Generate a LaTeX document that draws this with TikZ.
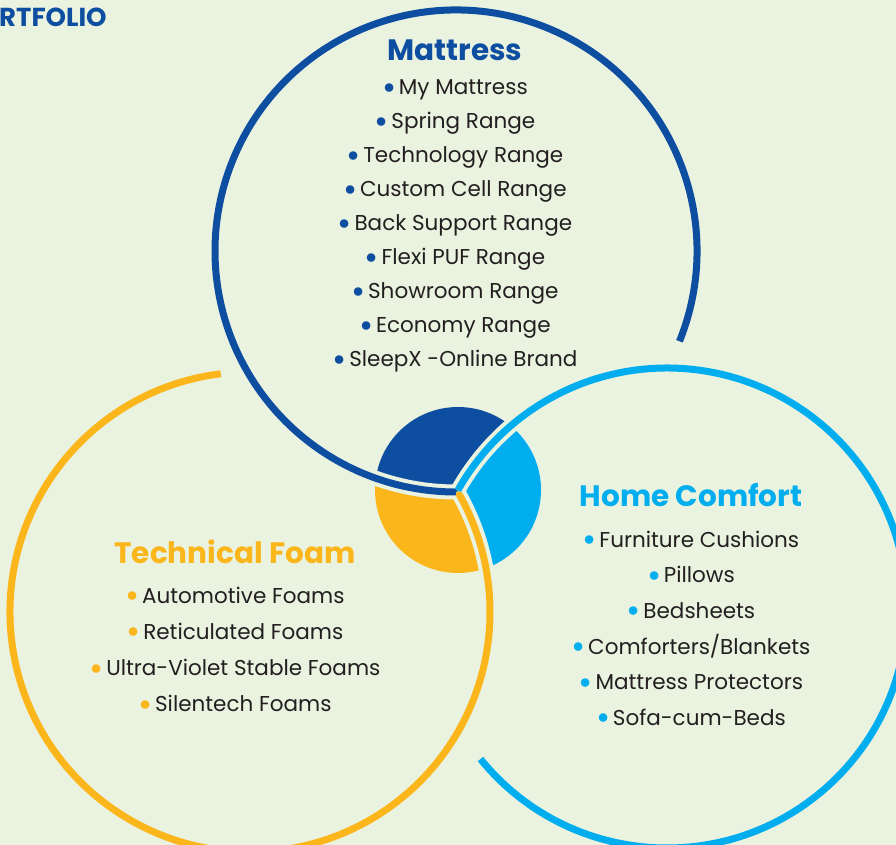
\documentclass[tikz,border=0pt]{standalone}
\usepackage{fontspec}
\setmainfont{Poppins}
\usetikzlibrary{positioning}
\definecolor{mattblue}{HTML}{0D4EA1}
\definecolor{foamyellow}{HTML}{FBB61B}
\definecolor{homecyan}{HTML}{00AEEF}
\definecolor{bggreen}{HTML}{EAF2E0}
\definecolor{textgray}{HTML}{231F20}
\newcommand{\bulletof}[1]{\raisebox{-0.2em}{\scalebox{1.6}{\color{#1}\textbullet}}\hspace{2.5pt}}

\begin{document}
\begin{tikzpicture}[x=1pt, y=1pt,
  title/.style={font=\fontsize{29.5}{30}\selectfont\bfseries, text height=22pt, text depth=7pt, inner sep=0pt},
  item/.style={font=\fontsize{21.5}{22}\selectfont, text=textgray, text height=15pt, text depth=5pt, inner sep=0pt},
  ring/.style={line width=7pt},
  halo/.style={line width=15pt, draw=bggreen}]
  % Background
  \fill[bggreen] (0,0) rectangle (896,845);
  \useasboundingbox (0,0) rectangle (896,845);

  % Centres of the circles and of the pie
  \coordinate (mc) at (456,594);
  \coordinate (fc) at (250,233);
  \coordinate (hc) at (667,237);
  \coordinate (j) at (458,355);

  % Pie in the middle
  \begin{scope}
    \clip (j) circle (83pt);
    \begin{scope}
      \clip (mc) circle (241pt);
      \fill[mattblue, even odd rule] (hc) circle (240pt) (0,0) rectangle (896,845);
    \end{scope}
    \begin{scope}
      \clip (fc) circle (240pt);
      \fill[foamyellow, even odd rule] (mc) circle (241pt) (0,0) rectangle (896,845);
    \end{scope}
    \begin{scope}
      \clip (hc) circle (240pt);
      \fill[homecyan, even odd rule] (fc) circle (240pt) (0,0) rectangle (896,845);
    \end{scope}
  \end{scope}

  % Rings
  \begin{scope}
    \clip (j) circle (95pt);
    \draw[halo] (fc) ++(97:240pt) arc[start angle=97, end angle=390, radius=240pt];
  \end{scope}
  \draw[ring, foamyellow] (fc) ++(97:240pt) arc[start angle=97, end angle=390, radius=240pt];
  \begin{scope}
    \clip (j) circle (95pt);
    \draw[halo] (mc) ++(-22:241pt) arc[start angle=-22, end angle=270, radius=241pt];
  \end{scope}
  \draw[ring, mattblue] (mc) ++(-22:241pt) arc[start angle=-22, end angle=270, radius=241pt];
  \begin{scope}
    \clip (j) circle (95pt);
    \draw[halo] (hc) ++(-141:240pt) arc[start angle=-141, end angle=150.6, radius=240pt];
  \end{scope}
  \draw[ring, homecyan] (hc) ++(-141:240pt) arc[start angle=-141, end angle=150.6, radius=240pt];

  % Heading cut at the edge
  \node[font=\fontsize{26}{26}\selectfont\bfseries, text=mattblue, anchor=west, inner sep=0pt] (portfolio) at (-1,828) {RTFOLIO};

  % Mattress
  \node[title, text=mattblue] (matt) at (455,792) {Mattress};
  \node[item, below=12pt of matt] (matt1) {\bulletof{mattblue}My Mattress};
  \node[item, below=13.6pt of matt1] (matt2) {\bulletof{mattblue}Spring Range};
  \node[item, below=13.6pt of matt2] (matt3) {\bulletof{mattblue}Technology Range};
  \node[item, below=13.6pt of matt3] (matt4) {\bulletof{mattblue}Custom Cell Range};
  \node[item, below=13.6pt of matt4] (matt5) {\bulletof{mattblue}Back Support Range};
  \node[item, below=13.6pt of matt5] (matt6) {\bulletof{mattblue}Flexi PUF Range};
  \node[item, below=13.6pt of matt6] (matt7) {\bulletof{mattblue}Showroom Range};
  \node[item, below=13.6pt of matt7] (matt8) {\bulletof{mattblue}Economy Range};
  \node[item, below=13.6pt of matt8] (matt9) {\bulletof{mattblue}SleepX -Online Brand};

  % Technical Foam
  \node[title, text=foamyellow] (foam) at (235,289) {Technical Foam};
  \node[item, below=17.5pt of foam] (foam1) {\bulletof{foamyellow}Automotive Foams};
  \node[item, below=15.8pt of foam1] (foam2) {\bulletof{foamyellow}Reticulated Foams};
  \node[item, below=15.8pt of foam2] (foam3) {\bulletof{foamyellow}Ultra-Violet Stable Foams};
  \node[item, below=15.8pt of foam3] (foam4) {\bulletof{foamyellow}Silentech Foams};

  % Home Comfort
  \node[title, text=homecyan] (home) at (691,346) {Home Comfort};
  \node[item, below=18.5pt of home] (home1) {\bulletof{homecyan}Furniture Cushions};
  \node[item, below=15.2pt of home1] (home2) {\bulletof{homecyan}Pillows};
  \node[item, below=15.2pt of home2] (home3) {\bulletof{homecyan}Bedsheets};
  \node[item, below=15.2pt of home3] (home4) {\bulletof{homecyan}Comforters/Blankets};
  \node[item, below=15.2pt of home4] (home5) {\bulletof{homecyan}Mattress Protectors};
  \node[item, below=15.2pt of home5] (home6) {\bulletof{homecyan}Sofa-cum-Beds};
\end{tikzpicture}
\end{document}
